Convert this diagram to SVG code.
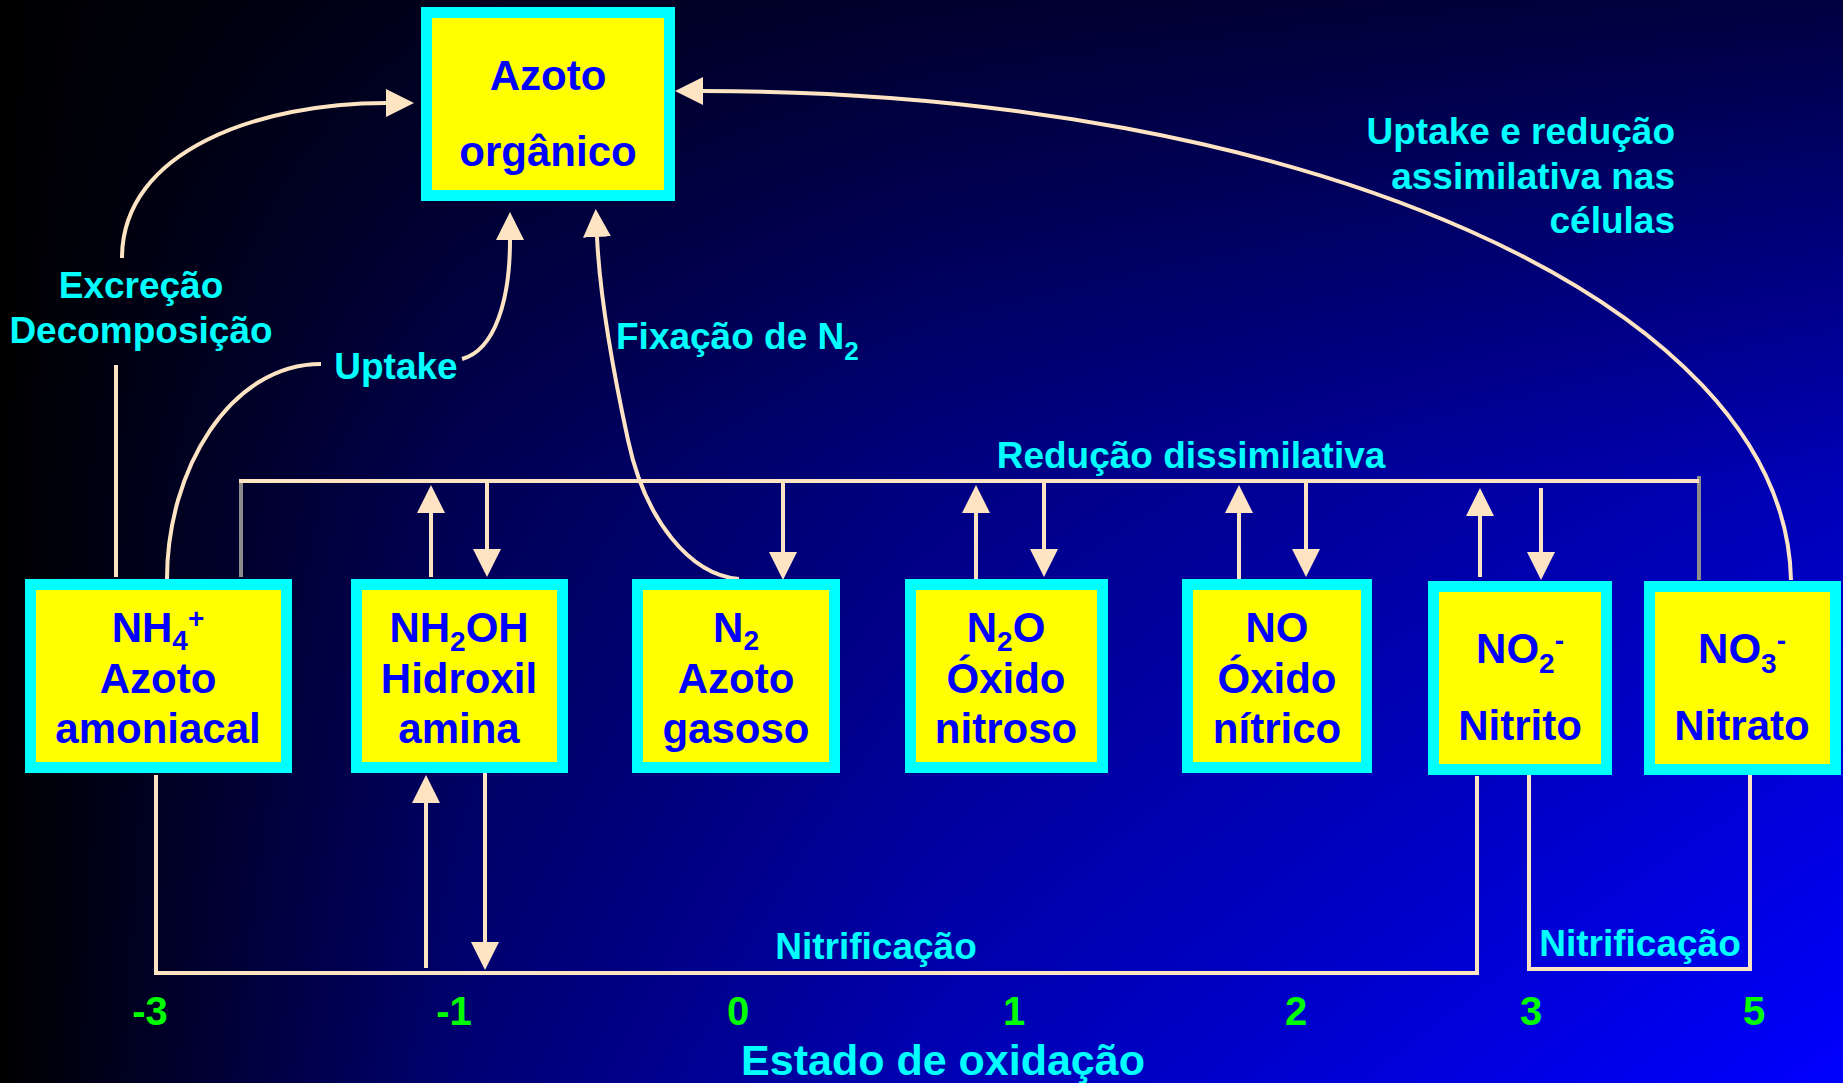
<svg xmlns="http://www.w3.org/2000/svg" width="1843" height="1083" viewBox="0 0 1843 1083">
  <defs>
    <linearGradient id="bgV" x1="0" y1="0" x2="0" y2="1">
      <stop offset="0" stop-color="#000040"/>
      <stop offset="0.45" stop-color="#0000B8"/>
      <stop offset="1" stop-color="#0000FF"/>
    </linearGradient>
    <linearGradient id="bgH" x1="0" y1="0" x2="1" y2="0">
      <stop offset="0" stop-color="#000000" stop-opacity="1"/>
      <stop offset="0.25" stop-color="#000000" stop-opacity="0.55"/>
      <stop offset="0.5" stop-color="#000000" stop-opacity="0.3"/>
      <stop offset="1" stop-color="#000000" stop-opacity="0"/>
    </linearGradient>
    <marker id="arr" viewBox="0 0 28 28" refX="0" refY="14" markerWidth="28" markerHeight="28" markerUnits="userSpaceOnUse" orient="auto">
      <path d="M0,0 L28,14 L0,28 Z" fill="#FFE4C4"/>
    </marker>
    <style>
      .box { fill: #FFFF00; stroke: #00FFFF; stroke-width: 11; }
      .nt { font-family: "Liberation Sans", Arial, sans-serif; font-weight: bold; font-size: 42px; fill: #0000FF; text-anchor: middle; }
      .sub { font-size: 28px; }
      .lbl { font-family: "Liberation Sans", Arial, sans-serif; font-weight: bold; font-size: 37px; fill: #00FFFF; }
      .big { font-size: 43px; }
      .num { font-family: "Liberation Sans", Arial, sans-serif; font-weight: bold; font-size: 40px; fill: #00FF00; text-anchor: middle; }
      .ln { fill: none; stroke: #FFE4C4; stroke-width: 4; }
      .ar { fill: none; stroke: #FFE4C4; stroke-width: 4; marker-end: url(#arr); }
      .gray { fill: none; stroke: #8C8C8C; stroke-width: 4; }
    </style>
  </defs>

  <rect x="0" y="0" width="1843" height="1083" fill="url(#bgV)"/>
  <rect x="0" y="0" width="1843" height="1083" fill="url(#bgH)"/>

  <g id="connectors">
    <!-- Excreção / Decomposição -->
    <path class="ar" d="M122,258 C122,150 260,103 386,103"/>
    <line class="ln" x1="116" y1="365" x2="116" y2="577"/>
    <!-- Uptake -->
    <path class="ln" d="M167,579 C167,470 230,364 321,364"/>
    <path class="ar" d="M462,359 C495,350 510,300 510,240"/>
    <!-- Fixação de N2 -->
    <path class="ar" d="M739,579 C690,575 645,520 628,440 C615,380 600,300 597,237"/>
    <!-- Uptake e redução assimilativa -->
    <path class="ar" d="M1791,580 C1785,300 1300,91 703,91"/>
    <!-- Redução dissimilativa bracket -->
    <line class="gray" x1="241" y1="481" x2="241" y2="577"/>
    <line class="gray" x1="1699" y1="476" x2="1699" y2="580"/>
    <line class="ln" x1="239" y1="481" x2="1699" y2="481"/>
    <line class="ar" x1="431" y1="577" x2="431" y2="513"/>
    <line class="ar" x1="487" y1="481" x2="487" y2="549"/>
    <line class="ar" x1="783" y1="481" x2="783" y2="552"/>
    <line class="ar" x1="976" y1="579" x2="976" y2="513"/>
    <line class="ar" x1="1044" y1="481" x2="1044" y2="549"/>
    <line class="ar" x1="1239" y1="579" x2="1239" y2="513"/>
    <line class="ar" x1="1306" y1="481" x2="1306" y2="549"/>
    <line class="ar" x1="1480" y1="577" x2="1480" y2="516"/>
    <line class="ar" x1="1541" y1="488" x2="1541" y2="552"/>
    <!-- Nitrificação -->
    <path class="ln" d="M156,775 V973 H1477 V776"/>
    <line class="ar" x1="426" y1="968" x2="426" y2="803"/>
    <line class="ar" x1="485" y1="773" x2="485" y2="942"/>
    <path class="ln" d="M1529,772 V969 H1750 V775"/>
  </g>

  <g id="node-organico">
    <rect class="box" x="426.5" y="12.5" width="243" height="183"/>
    <text class="nt" x="548" y="90">Azoto</text>
    <text class="nt" x="548" y="166">orgânico</text>
  </g>

  <g id="node-nh4">
    <rect class="box" x="30.5" y="584.5" width="256" height="183"/>
    <text class="nt" x="158" y="642">NH<tspan class="sub" dy="8">4</tspan><tspan class="sub" dy="-22">+</tspan></text>
    <text class="nt" x="158" y="693">Azoto</text>
    <text class="nt" x="158" y="743">amoniacal</text>
  </g>

  <g id="node-nh2oh">
    <rect class="box" x="356.5" y="584.5" width="206" height="183"/>
    <text class="nt" x="459" y="642">NH<tspan class="sub" dy="9">2</tspan><tspan dy="-9">OH</tspan></text>
    <text class="nt" x="459" y="693">Hidroxil</text>
    <text class="nt" x="459" y="743">amina</text>
  </g>

  <g id="node-n2">
    <rect class="box" x="637.5" y="584.5" width="197" height="183"/>
    <text class="nt" x="736" y="642">N<tspan class="sub" dy="8">2</tspan></text>
    <text class="nt" x="736" y="693">Azoto</text>
    <text class="nt" x="736" y="743">gasoso</text>
  </g>

  <g id="node-n2o">
    <rect class="box" x="910.5" y="584.5" width="192" height="183"/>
    <text class="nt" x="1006" y="642">N<tspan class="sub" dy="9">2</tspan><tspan dy="-9">O</tspan></text>
    <text class="nt" x="1006" y="693">Óxido</text>
    <text class="nt" x="1006" y="743">nitroso</text>
  </g>

  <g id="node-no">
    <rect class="box" x="1187.5" y="584.5" width="179" height="183"/>
    <text class="nt" x="1277" y="642">NO</text>
    <text class="nt" x="1277" y="693">Óxido</text>
    <text class="nt" x="1277" y="743">nítrico</text>
  </g>

  <g id="node-no2">
    <rect class="box" x="1433.5" y="586.5" width="173" height="183"/>
    <text class="nt" x="1520" y="663">NO<tspan class="sub" dy="10">2</tspan><tspan class="sub" dy="-23">-</tspan></text>
    <text class="nt" x="1520" y="740">Nitrito</text>
  </g>

  <g id="node-no3">
    <rect class="box" x="1649.5" y="586.5" width="186" height="183"/>
    <text class="nt" x="1742" y="663">NO<tspan class="sub" dy="10">3</tspan><tspan class="sub" dy="-23">-</tspan></text>
    <text class="nt" x="1742" y="740">Nitrato</text>
  </g>

  <g id="labels">
    <text class="lbl" x="141" y="298" text-anchor="middle">Excreção</text>
    <text class="lbl" x="141" y="343" text-anchor="middle">Decomposição</text>
    <text class="lbl" x="396" y="379" text-anchor="middle">Uptake</text>
    <text class="lbl" x="616" y="349">Fixação de N<tspan font-size="26" dy="11">2</tspan></text>
    <text class="lbl" x="1675" y="144" text-anchor="end">Uptake e redução</text>
    <text class="lbl" x="1675" y="189" text-anchor="end">assimilativa nas</text>
    <text class="lbl" x="1675" y="233" text-anchor="end">células</text>
    <text class="lbl" x="1191" y="468" text-anchor="middle">Redução dissimilativa</text>
    <text class="lbl" x="876" y="959" text-anchor="middle">Nitrificação</text>
    <text class="lbl" x="1640" y="956" text-anchor="middle">Nitrificação</text>
    <text class="lbl big" x="943" y="1075" text-anchor="middle">Estado de oxidação</text>
  </g>

  <g id="axis">
    <text class="num" x="150" y="1025">-3</text>
    <text class="num" x="454" y="1025">-1</text>
    <text class="num" x="738" y="1025">0</text>
    <text class="num" x="1014" y="1025">1</text>
    <text class="num" x="1296" y="1025">2</text>
    <text class="num" x="1531" y="1025">3</text>
    <text class="num" x="1754" y="1025">5</text>
  </g>
</svg>
